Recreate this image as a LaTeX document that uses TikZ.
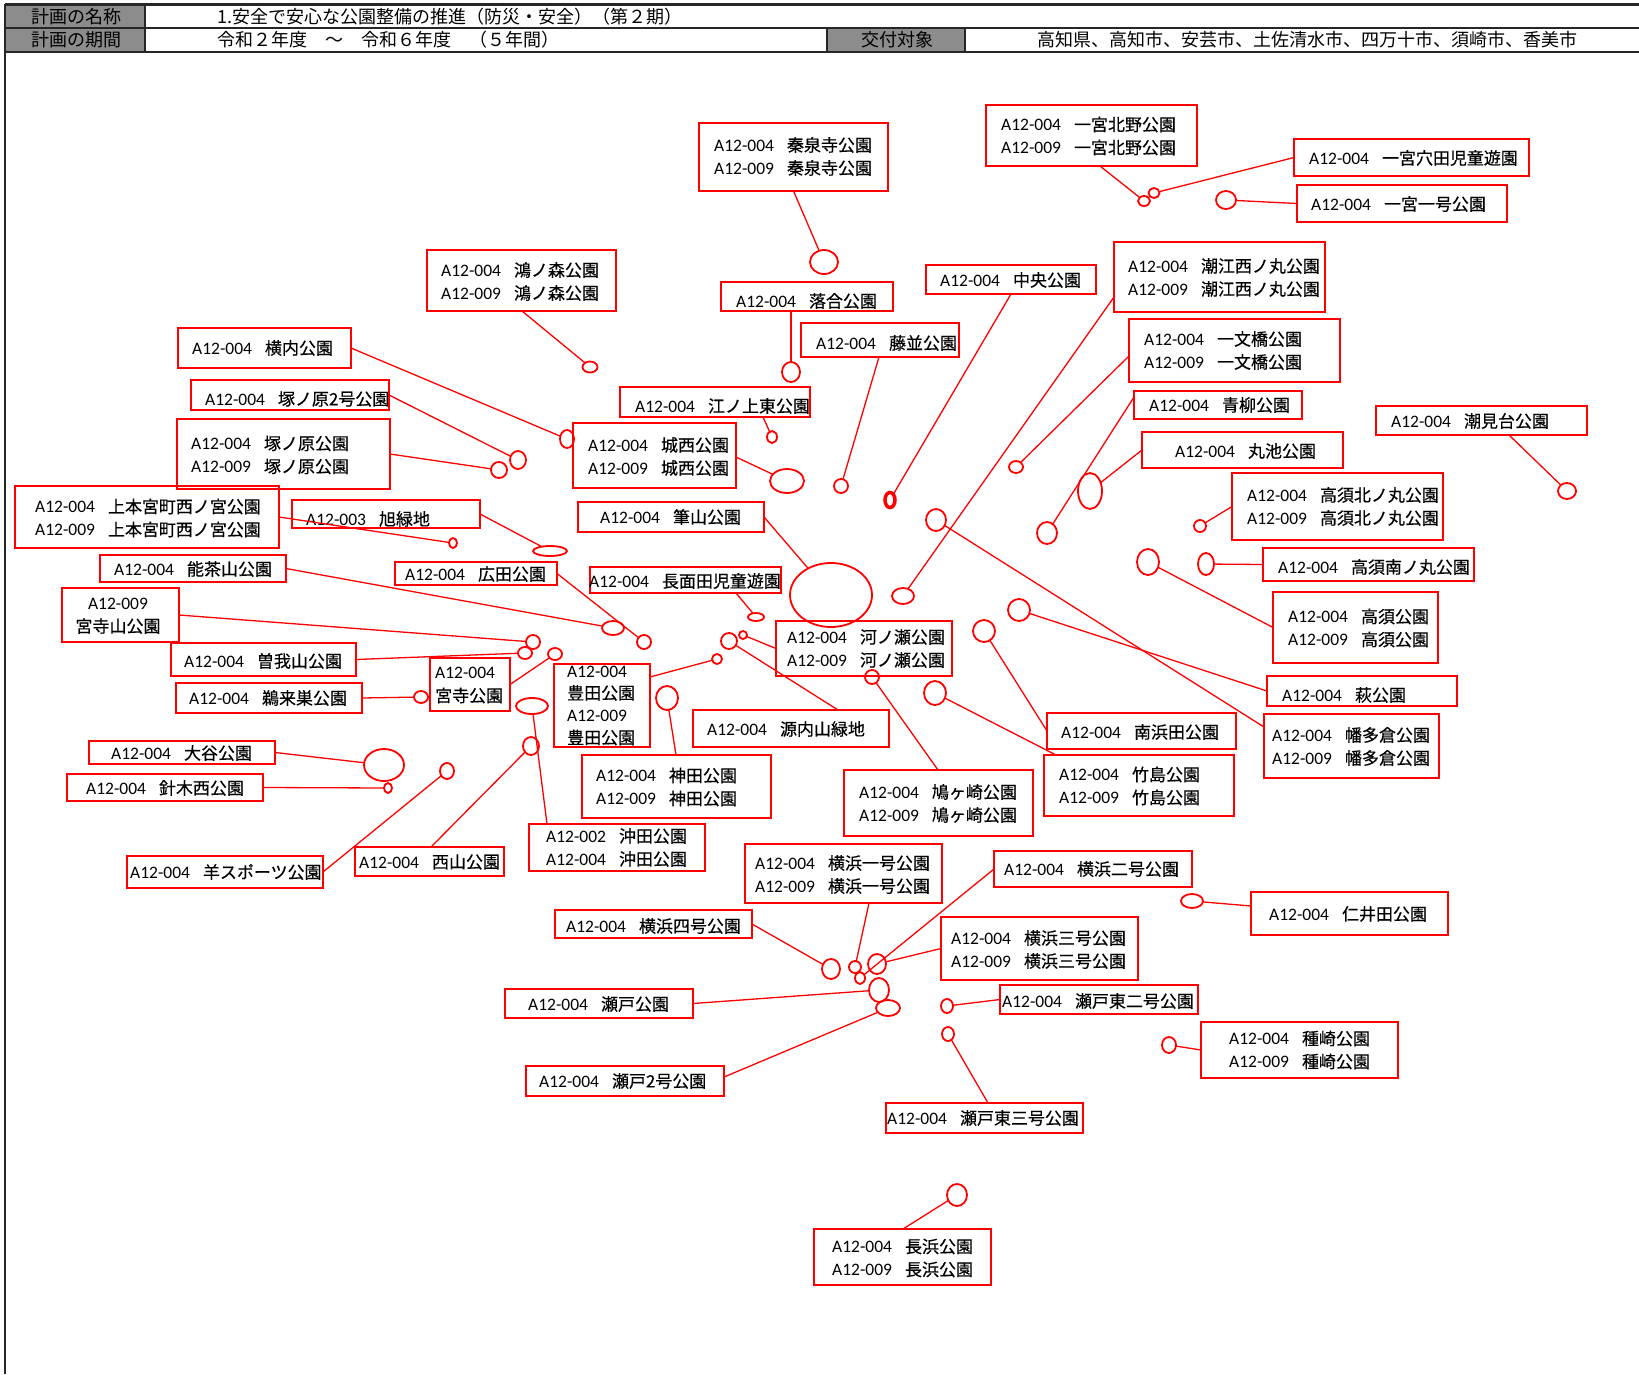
\documentclass[tikz,border=0pt]{standalone}
\usepackage{fontspec}
\setmainfont{Carlito}
\newfontfamily\jp[Scale=0.97,FakeBold=0.4]{Noto Sans CJK JP}
\newfontfamily\jph{Noto Sans CJK JP}
\usetikzlibrary{shapes.geometric}
\definecolor{cellgray}{gray}{0.55}
\definecolor{pred}{RGB}{255,0,0}
\newcommand\pk[2]{#1\hspace{13pt}{\jp #2}}
\newcommand\bx[5]{\node[box, minimum width={#4-#2}, minimum height={#5-#3}] (#1) at ({(#2+#4)/2},{(#3+#5)/2}) {};}
\newcommand\el[5]{\node[ell, minimum width={2*#4}, minimum height={2*#5}] (#1) at (#2,#3) {};}
\newcommand\tx[4]{\node[txt] (#1) at (#2,#3) {#4};}
\begin{document}
\begin{tikzpicture}[x=1pt,y=-1pt,
  box/.style={draw=pred, line width=2pt, inner sep=0pt, outer sep=0pt, rectangle},
  ell/.style={draw=pred, line width=1.8pt, ellipse, inner sep=0pt, outer sep=0pt},
  conn/.style={draw=pred, line width=1.3pt},
  txt/.style={anchor=west, inner sep=0pt, align=left, font=\fontsize{17.5}{23}\selectfont},
  hd/.style={inner sep=0pt, font=\jph\fontsize{18}{20}\selectfont},
  hline/.style={draw=black!85, line width=1.8pt}]
\fill[white] (0,0) rectangle (1639,1374);
\useasboundingbox (0,0) rectangle (1639,1374);
% header
\fill[cellgray] (6,6) rectangle (144,27);
\fill[cellgray] (6,29) rectangle (144,51);
\fill[cellgray] (827,29) rectangle (965,51);
\draw[hline, line width=2.5pt] (5,4.5) -- (1639,4.5);
\draw[hline] (5,28) -- (1639,28);
\draw[hline] (5,52) -- (1639,52);
\draw[hline] (5,3.5) -- (5,1374);
\draw[hline] (145,3.5) -- (145,53);
\draw[hline] (827,28) -- (827,52);
\draw[hline] (965,28) -- (965,52);
\node[hd] (h1) at (76,16.5) {計画の名称};
\node[hd] (h2) at (76,40) {計画の期間};
\node[hd, anchor=west] (h3) at (217,16.5) {1.安全で安心な公園整備の推進（防災・安全）（第２期）};
\node[hd, anchor=west] (h4) at (217,40) {令和２年度　～　令和６年度　（５年間）};
\node[hd] (h5) at (897,40) {交付対象};
\node[hd, anchor=west] (h6) at (1037,40) {高知県、高知市、安芸市、土佐清水市、四万十市、須崎市、香美市};
% boxes
\bx{b01}{699}{123}{888}{191}
\bx{b02}{986}{105}{1197}{166}
\bx{b03}{1294}{139}{1529}{176}
\bx{b04}{1297}{185}{1507}{222}
\bx{b05}{427}{250}{616}{311}
\bx{b06}{721}{282}{893}{311}
\bx{b07}{926}{265}{1096}{294}
\bx{b08}{1114}{242}{1325}{312}
\bx{b09}{801}{323}{959}{357}
\bx{b10}{1129}{319}{1340}{382}
\bx{b11}{178}{328}{351}{368}
\bx{b12}{191}{380}{389}{410}
\bx{b13}{620}{387}{810}{417}
\bx{b14}{1134}{391}{1302}{419}
\bx{b15}{1376}{406}{1587}{435}
\bx{b16}{177}{419}{390}{489}
\bx{b17}{573}{423}{736}{488}
\bx{b18}{1142}{432}{1343}{468}
\bx{b19}{1232}{473}{1443}{540}
\bx{b20}{15}{486}{279}{548}
\bx{b21}{292}{500}{480}{528}
\bx{b22}{578}{502}{764}{532}
\bx{b23}{1263}{548}{1474}{581}
\bx{b24}{100}{555}{286}{582}
\bx{b25}{395}{562}{557}{585}
\bx{b26}{590}{567}{781}{593}
\bx{b27}{62}{588}{179}{642}
\bx{b28}{1273}{592}{1438}{663}
\bx{b29}{776}{621}{952}{676}
\bx{b30}{171}{643}{356}{676}
\bx{b31}{430}{658}{510}{711}
\bx{b32}{554}{664}{650}{747}
\bx{b33}{1267}{676}{1457}{706}
\bx{b34}{176}{683}{362}{713}
\bx{b35}{693}{710}{889}{747}
\bx{b36}{1047}{713}{1236}{749}
\bx{b37}{1264}{714}{1439}{778}
\bx{b38}{89}{741}{275}{764}
\bx{b39}{1044}{755}{1234}{816}
\bx{b40}{582}{755}{771}{818}
\bx{b41}{844}{770}{1033}{836}
\bx{b42}{67}{774}{263}{801}
\bx{b43}{529}{824}{705}{871}
\bx{b44}{745}{844}{942}{903}
\bx{b45}{355}{847}{504}{876}
\bx{b46}{994}{851}{1192}{887}
\bx{b47}{127}{856}{323}{888}
\bx{b48}{1251}{892}{1448}{935}
\bx{b49}{555}{910}{752}{938}
\bx{b50}{941}{917}{1138}{980}
\bx{b51}{1000}{985}{1198}{1014}
\bx{b52}{505}{989}{693}{1018}
\bx{b53}{1201}{1022}{1398}{1078}
\bx{b54}{526}{1066}{724}{1096}
\bx{b55}{886}{1103}{1083}{1133}
\bx{b56}{814}{1229}{991}{1285}
% texts
\tx{t01}{714}{156.5}{\pk{A12-004}{秦泉寺公園}\\\pk{A12-009}{秦泉寺公園}}
\tx{t02}{1001}{136}{\pk{A12-004}{一宮北野公園}\\\pk{A12-009}{一宮北野公園}}
\tx{t03}{1309}{158}{\pk{A12-004}{一宮穴田児童遊園}}
\tx{t04}{1311}{204}{\pk{A12-004}{一宮一号公園}}
\tx{t05}{441}{281.5}{\pk{A12-004}{鴻ノ森公園}\\\pk{A12-009}{鴻ノ森公園}}
\tx{t06}{736}{301}{\pk{A12-004}{落合公園}}
\tx{t07}{940}{280}{\pk{A12-004}{中央公園}}
\tx{t08}{1128}{277.5}{\pk{A12-004}{潮江西ノ丸公園}\\\pk{A12-009}{潮江西ノ丸公園}}
\tx{t09}{816}{343}{\pk{A12-004}{藤並公園}}
\tx{t10}{1144}{350.5}{\pk{A12-004}{一文橋公園}\\\pk{A12-009}{一文橋公園}}
\tx{t11}{192}{348}{\pk{A12-004}{横内公園}}
\tx{t12}{205}{399}{\pk{A12-004}{塚ノ原2号公園}}
\tx{t13}{635}{406}{\pk{A12-004}{江ノ上東公園}}
\tx{t14}{1149}{405}{\pk{A12-004}{青柳公園}}
\tx{t15}{1391}{421}{\pk{A12-004}{潮見台公園}}
\tx{t16}{191}{455}{\pk{A12-004}{塚ノ原公園}\\\pk{A12-009}{塚ノ原公園}}
\tx{t17}{588}{456.5}{\pk{A12-004}{城西公園}\\\pk{A12-009}{城西公園}}
\tx{t18}{1175}{451}{\pk{A12-004}{丸池公園}}
\tx{t19}{1247}{506.5}{\pk{A12-004}{高須北ノ丸公園}\\\pk{A12-009}{高須北ノ丸公園}}
\tx{t20}{35}{518}{\pk{A12-004}{上本宮町西ノ宮公園}\\\pk{A12-009}{上本宮町西ノ宮公園}}
\tx{t21}{306}{519}{\pk{A12-003}{旭緑地}}
\tx{t22}{600}{517}{\pk{A12-004}{筆山公園}}
\tx{t23}{1278}{567}{\pk{A12-004}{高須南ノ丸公園}}
\tx{t24}{114}{569}{\pk{A12-004}{能茶山公園}}
\tx{t25}{405}{574}{\pk{A12-004}{広田公園}}
\tx{t26}{589}{581}{\pk{A12-004}{長面田児童遊園}}
\node[txt, anchor=center, align=center] (t27) at (118,616) {A12-009\\{\jp 宮寺山公園}};
\tx{t28}{1288}{628}{\pk{A12-004}{高須公園}\\\pk{A12-009}{高須公園}}
\tx{t29}{787}{648.5}{\pk{A12-004}{河ノ瀬公園}\\\pk{A12-009}{河ノ瀬公園}}
\tx{t30}{184}{661}{\pk{A12-004}{曽我山公園}}
\tx{t31}{435}{685.5}{A12-004\\{\jp 宮寺公園}}
\node[txt, font=\fontsize{17.5}{22.3}\selectfont] (t32) at (567,705.5) {A12-004\\{\jp 豊田公園}\\A12-009\\{\jp 豊田公園}};
\tx{t33}{1282}{695}{\pk{A12-004}{萩公園}}
\tx{t34}{189}{698}{\pk{A12-004}{鵜来巣公園}}
\tx{t35}{707}{729}{\pk{A12-004}{源内山緑地}}
\tx{t36}{1061}{732}{\pk{A12-004}{南浜田公園}}
\tx{t37}{1272}{746.5}{\pk{A12-004}{幡多倉公園}\\\pk{A12-009}{幡多倉公園}}
\tx{t38}{111}{753}{\pk{A12-004}{大谷公園}}
\tx{t39}{1059}{786}{\pk{A12-004}{竹島公園}\\\pk{A12-009}{竹島公園}}
\tx{t40}{596}{787}{\pk{A12-004}{神田公園}\\\pk{A12-009}{神田公園}}
\tx{t41}{859}{803.5}{\pk{A12-004}{鳩ヶ崎公園}\\\pk{A12-009}{鳩ヶ崎公園}}
\tx{t42}{86}{788}{\pk{A12-004}{針木西公園}}
\tx{t43}{546}{847.5}{\pk{A12-002}{沖田公園}\\\pk{A12-004}{沖田公園}}
\tx{t44}{755}{874.5}{\pk{A12-004}{横浜一号公園}\\\pk{A12-009}{横浜一号公園}}
\tx{t45}{359}{862}{\pk{A12-004}{西山公園}}
\tx{t46}{1004}{869}{\pk{A12-004}{横浜二号公園}}
\tx{t47}{130}{872}{\pk{A12-004}{羊スポーツ公園}}
\tx{t48}{1269}{914}{\pk{A12-004}{仁井田公園}}
\tx{t49}{566}{926}{\pk{A12-004}{横浜四号公園}}
\tx{t50}{951}{949.5}{\pk{A12-004}{横浜三号公園}\\\pk{A12-009}{横浜三号公園}}
\tx{t51}{1002}{1001}{\pk{A12-004}{瀬戸東二号公園}}
\tx{t52}{528}{1004}{\pk{A12-004}{瀬戸公園}}
\tx{t53}{1229}{1050}{\pk{A12-004}{種崎公園}\\\pk{A12-009}{種崎公園}}
\tx{t54}{539}{1081}{\pk{A12-004}{瀬戸2号公園}}
\tx{t55}{887}{1118}{\pk{A12-004}{瀬戸東三号公園}}
\tx{t56}{832}{1258}{\pk{A12-004}{長浜公園}\\\pk{A12-009}{長浜公園}}
% location marks
\el{c01}{824}{262}{14}{12}
\el{c02}{1144}{201}{6}{5}
\el{c03}{1154}{193}{5.5}{5}
\el{c04}{1226}{200}{10}{9}
\el{c05}{590}{367}{7.5}{5.5}
\el{c06}{791}{372}{9}{10}
\node[ell, line width=3.5pt, minimum width=10, minimum height=15] (c07) at (890,500) {};
\el{c08}{903}{596}{11}{8}
\el{c09}{841}{486}{7}{7}
\el{c10}{1016}{467}{7}{6}
\el{c11}{567}{439}{7}{9}
\el{c12}{518}{460}{8}{9}
\el{c13}{772}{437}{5}{6}
\el{c14}{1047}{533}{10}{11}
\el{c15}{1567}{491}{9}{8}
\el{c16}{499}{470}{8}{8}
\el{c17}{787}{481}{17}{12}
\el{c18}{1090}{491}{12}{18}
\el{c19}{1200}{526}{6}{6}
\el{c20}{453}{543}{4}{5}
\el{c21}{550}{551}{17}{5}
\el{c22}{831}{595}{41}{32}
\el{c23}{1206}{564}{8}{11}
\el{c24}{613}{628}{11}{7}
\el{c25}{644}{642}{7}{7}
\el{c26}{756}{617}{8}{4}
\el{c27}{533}{642}{7}{7}
\el{c28}{1148}{562}{11}{13}
\el{c29}{743}{635}{4}{4}
\el{c30}{525}{653}{7}{6}
\el{c31}{555}{654}{7}{6}
\el{c32}{717}{659}{5}{5}
\el{c33}{1019}{610}{11}{11}
\el{c34}{421}{697}{7}{6}
\el{c35}{729}{641}{8}{8}
\el{c36}{984}{631}{11}{11}
\el{c37}{936}{520}{10}{11}
\el{c38}{384}{765}{20}{16}
\el{c39}{935}{693}{11}{12}
\el{c40}{667}{698}{11}{12}
\el{c41}{872}{677}{7}{7}
\el{c42}{388}{788}{4}{5}
\el{c43}{532}{706}{16}{8}
\el{c44}{855}{967}{6}{6}
\el{c45}{531}{746}{8}{9}
\el{c46}{860}{978}{5}{6}
\el{c47}{447}{771}{7}{8}
\el{c48}{1192}{901}{11}{7}
\el{c49}{831}{969}{9}{10}
\el{c50}{877}{964}{9}{10}
\el{c51}{947}{1006}{6}{7}
\el{c52}{879}{990}{10}{12}
\el{c53}{1169}{1045}{7}{8}
\el{c54}{888}{1008}{12}{8}
\el{c55}{948}{1034}{6}{7}
\el{c56}{957}{1195}{10}{11}
% connectors
\draw[conn] (b01.south) -- (c01);
\draw[conn] ([xshift=114pt]b02.south west) -- (c02);
\draw[conn] (b03.west) -- (c03);
\draw[conn] (b04.west) -- (c04);
\draw[conn] ([xshift=95pt]b05.south west) -- (c05);
\draw[conn] ([xshift=70pt]b06.south west) -- (c06);
\draw[conn] ([xshift=85pt]b07.south west) -- (c07);
\draw[conn] ([yshift=15pt]b08.south west) -- (c08);
\draw[conn] ([xshift=78pt]b09.south west) -- (c09);
\draw[conn] ([yshift=-5.5pt]b10.west) -- (c10);
\draw[conn] (b11.east) -- (c11);
\draw[conn] (b12.east) -- (c12);
\draw[conn] ([xshift=143pt]b13.south west) -- (c13);
\draw[conn] ([yshift=8pt]b14.west) -- (c14);
\draw[conn] ([xshift=133pt]b15.south west) -- (c15);
\draw[conn] (b16.east) -- (c16);
\draw[conn] ([yshift=-1.5pt]b17.east) -- (c17);
\draw[conn] (b18.west) -- (c18);
\draw[conn] (b19.west) -- (c19);
\draw[conn] (b20.east) -- (c20);
\draw[conn] (b21.east) -- (c21);
\draw[conn] (b22.east) -- (c22);
\draw[conn] (b23.west) -- (c23);
\draw[conn] (b24.east) -- (c24);
\draw[conn] (b25.east) -- (c25);
\draw[conn] ([xshift=146pt]b26.south west) -- (c26);
\draw[conn] (b27.east) -- (c27);
\draw[conn] (b28.west) -- (c28);
\draw[conn] (b29.west) -- (c29);
\draw[conn] (b30.east) -- (c30);
\draw[conn] (b31.east) -- (c31);
\draw[conn] ([yshift=-13pt]b32.north east) -- (c32);
\draw[conn] (b33.west) -- (c33);
\draw[conn] (b34.east) -- (c34);
\draw[conn] ([xshift=145pt]b35.north west) -- (c35);
\draw[conn] (b36.west) -- (c36);
\draw[conn] ([yshift=-13pt]b37.north west) -- (c37);
\draw[conn] (b38.east) -- (c38);
\draw[conn] ([xshift=12pt]b39.north west) -- (c39);
\draw[conn] ([xshift=94pt]b40.north west) -- (c40);
\draw[conn] ([xshift=94pt]b41.north west) -- (c41);
\draw[conn] (b42.east) -- (c42);
\draw[conn] ([xshift=18pt]b43.north west) -- (c43);
\draw[conn] ([xshift=124pt]b44.south west) -- (c44);
\draw[conn] ([xshift=76pt]b45.north west) -- (c45);
\draw[conn] (b46.west) -- (c46);
\draw[conn] (b47.east) -- (c47);
\draw[conn] ([yshift=7.5pt]b48.west) -- (c48);
\draw[conn] (b49.east) -- (c49);
\draw[conn] (b50.west) -- (c50);
\draw[conn] (b51.west) -- (c51);
\draw[conn] (b52.east) -- (c52);
\draw[conn] (b53.west) -- (c53);
\draw[conn] ([yshift=4pt]b54.east) -- (c54);
\draw[conn] ([xshift=102pt]b55.north west) -- (c55);
\draw[conn] ([xshift=89pt]b56.north west) -- (c56);
\end{tikzpicture}
\end{document}
